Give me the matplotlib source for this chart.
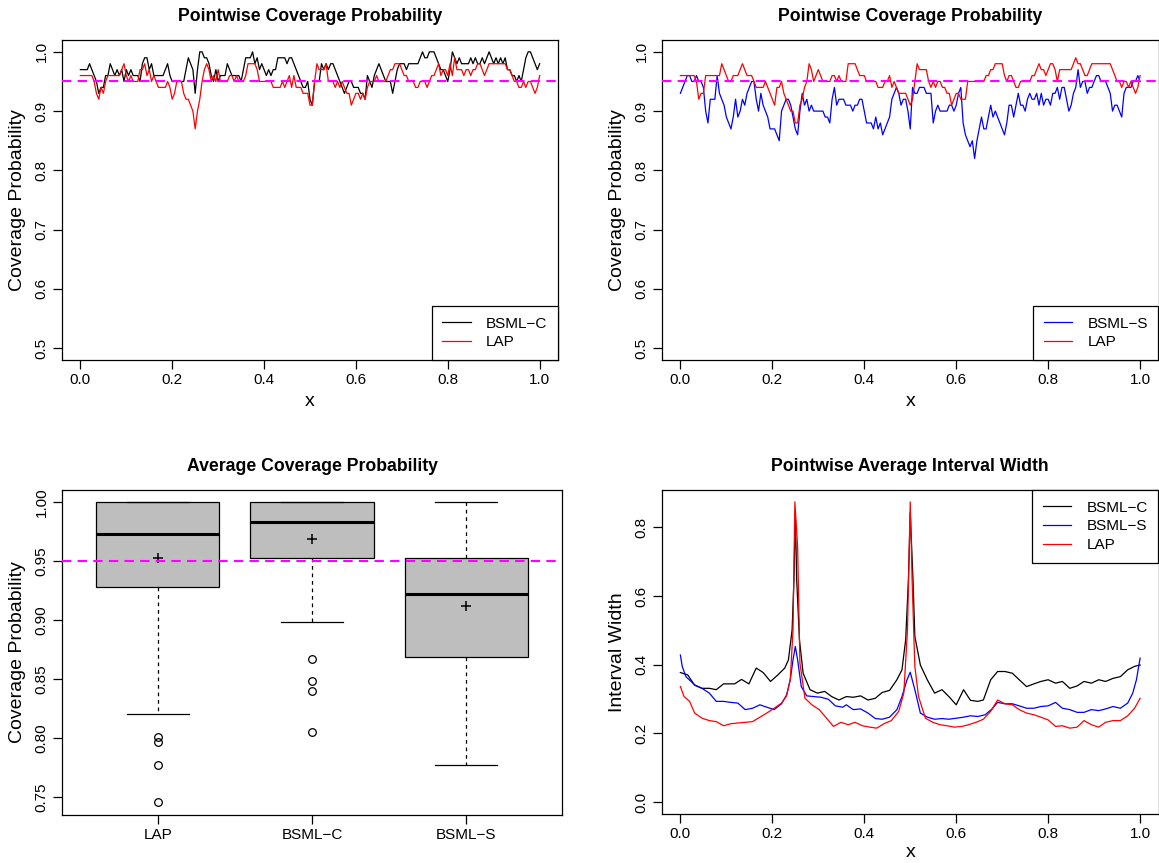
import numpy as np
import matplotlib
matplotlib.use("Agg")
import matplotlib.pyplot as plt

plt.rcParams['font.family'] = ['Liberation Sans', 'DejaVu Sans']

# coverage probabilities (percent) on a regular grid of 201 points in [0, 1]
x_grid = np.linspace(0, 1, 201)

cov_bsml_c = [
    97, 97, 97, 97, 98, 97, 96, 95, 93, 94, 94,
    96, 96, 98, 97, 96, 97, 96, 97, 95, 97,
    96, 97, 96, 96, 96, 95, 98, 99, 99, 97,
    98, 96, 96, 96, 96, 96, 97, 98, 96, 95,
    95, 95, 95, 95, 95, 97, 99, 98, 97, 93,
    97, 100, 100, 99, 99, 98, 96, 95, 97, 95,
    96, 96, 96, 98, 97, 96, 96, 96, 96, 95,
    97, 99, 99, 99, 100, 98, 99, 97, 98, 97,
    96, 97, 96, 97, 97, 99, 99, 99, 99, 98,
    99, 99, 98, 97, 96, 95, 94, 94, 95, 92,
    91, 95, 95, 95, 98, 97, 98, 97, 98, 98,
    97, 96, 95, 94, 93, 94, 95, 95, 94, 94,
    94, 93, 93, 92, 96, 95, 94, 96, 97, 98,
    97, 96, 95, 95, 95, 93, 95, 97, 98, 98,
    98, 97, 98, 98, 98, 98, 98, 99, 100, 99,
    99, 100, 100, 100, 99, 98, 97, 97, 96, 95,
    97, 100, 99, 98, 99, 98, 98, 98, 98, 99,
    98, 99, 98, 98, 99, 98, 99, 100, 99, 98,
    99, 98, 99, 98, 99, 97, 97, 96, 96, 95,
    96, 95, 97, 99, 100, 100, 99, 98, 97, 98]

cov_lap_1 = [
    96, 96, 96, 96, 96, 96, 95, 93, 92, 94, 93,
    95, 96, 96, 96, 96, 96, 96, 97, 98, 96,
    95, 96, 95, 95, 95, 97, 97, 98, 96, 97,
    95, 96, 95, 94, 94, 94, 94, 95, 94, 92,
    93, 95, 95, 95, 93, 92, 92, 91, 90, 87,
    90, 92, 95, 97, 98, 97, 95, 96, 95, 97,
    95, 95, 95, 95, 96, 96, 95, 96, 95, 95,
    95, 96, 98, 98, 98, 98, 97, 95, 95, 95,
    95, 95, 95, 94, 94, 94, 94, 95, 94, 95,
    96, 94, 96, 94, 94, 94, 93, 93, 93, 91,
    91, 95, 98, 97, 97, 97, 98, 95, 95, 95,
    94, 95, 94, 95, 94, 93, 93, 91, 92, 93,
    93, 92, 93, 92, 94, 95, 95, 95, 96, 95,
    95, 95, 95, 96, 97, 97, 98, 98, 98, 97,
    96, 96, 95, 95, 95, 94, 94, 95, 95, 95,
    94, 95, 96, 96, 97, 98, 96, 97, 97, 96,
    98, 96, 99, 97, 97, 97, 96, 97, 97, 96,
    97, 97, 98, 98, 97, 96, 97, 98, 98, 98,
    98, 98, 98, 98, 98, 97, 97, 96, 95, 95,
    94, 94, 95, 94, 95, 95, 94, 93, 94, 96]

cov_bsml_s = [
    93, 94, 95, 96, 96, 95, 95, 96, 95, 95, 94,
    90, 88, 92, 92, 92, 96, 93, 92, 91, 89,
    88, 87, 89, 92, 89, 90, 92, 91, 93, 94,
    95, 95, 92, 90, 93, 91, 90, 89, 87, 87,
    87, 86, 85, 90, 91, 92, 92, 91, 89, 87,
    86, 90, 93, 91, 92, 90, 91, 90, 90, 90,
    90, 90, 89, 89, 88, 92, 94, 91, 92, 92,
    92, 91, 91, 91, 90, 91, 91, 92, 92, 90,
    88, 88, 88, 87, 89, 87, 88, 86, 87, 88,
    89, 92, 93, 94, 93, 91, 92, 92, 90, 87,
    94, 93, 93, 94, 94, 94, 93, 93, 93, 88,
    90, 91, 90, 90, 90, 90, 91, 91, 90, 91,
    93, 94, 88, 86, 85, 84, 85, 82, 85, 87,
    89, 87, 87, 89, 91, 89, 90, 89, 88, 87,
    86, 88, 91, 91, 89, 91, 93, 91, 91, 90,
    92, 93, 92, 92, 93, 91, 93, 91, 92, 92,
    91, 93, 93, 94, 92, 94, 94, 92, 90, 91,
    93, 94, 97, 94, 95, 95, 93, 94, 94, 95,
    96, 96, 95, 95, 95, 94, 93, 90, 91, 91,
    90, 89, 93, 94, 94, 94, 95, 95, 96, 95]

cov_lap_2 = [
    96, 96, 96, 96, 96, 96, 96, 95, 92, 93, 93,
    96, 96, 96, 96, 96, 96, 96, 98, 97, 96,
    95, 95, 96, 96, 96, 97, 98, 97, 96, 96,
    96, 95, 94, 94, 94, 94, 95, 94, 93, 92,
    91, 94, 94, 95, 93, 92, 91, 90, 90, 88,
    88, 91, 92, 94, 95, 98, 97, 95, 96, 97,
    96, 95, 95, 95, 95, 96, 96, 95, 96, 95,
    95, 95, 98, 98, 98, 98, 97, 96, 96, 96,
    95, 95, 95, 95, 95, 94, 94, 94, 95, 95,
    96, 94, 95, 94, 93, 93, 93, 93, 92, 91,
    92, 95, 98, 97, 97, 97, 97, 95, 94, 95,
    94, 95, 95, 94, 94, 93, 93, 91, 92, 93,
    93, 92, 92, 92, 95, 95, 95, 95, 95, 95,
    95, 95, 96, 96, 97, 97, 98, 98, 98, 98,
    96, 95, 96, 96, 95, 94, 94, 95, 95, 95,
    95, 95, 96, 96, 97, 98, 97, 97, 96, 97,
    98, 98, 97, 95, 97, 97, 97, 97, 97, 97,
    98, 99, 98, 98, 97, 96, 96, 97, 98, 98,
    98, 98, 98, 98, 98, 98, 98, 97, 96, 95,
    95, 94, 95, 95, 94, 95, 94, 93, 94, 96]

# average coverage probability boxplots
box_names = ['LAP', 'BSML\u2212C', 'BSML\u2212S']
box_q1 = [0.928, 0.953, 0.869]
box_med = [0.973, 0.983, 0.922]
box_q3 = [1.000, 1.000, 0.953]
box_lo = [0.820, 0.898, 0.777]
box_hi = [1.000, 1.000, 1.000]
box_mean = [0.953, 0.969, 0.912]
box_out = [[0.801, 0.797, 0.777, 0.746], [0.867, 0.848, 0.840, 0.805], []]

# pointwise average interval width
w_c_x = [0, 0.016, 0.031, 0.047, 0.063, 0.078, 0.094, 0.118, 0.133, 0.149, 0.165,
         0.180, 0.196, 0.212, 0.227, 0.235, 0.243, 0.247, 0.250, 0.253, 0.259, 0.267,
         0.282, 0.298, 0.314, 0.329, 0.345, 0.361, 0.376, 0.392, 0.408, 0.424, 0.439,
         0.455, 0.471, 0.482, 0.490, 0.496, 0.500, 0.506, 0.510, 0.522, 0.537, 0.553,
         0.569, 0.584, 0.600, 0.616, 0.631, 0.647, 0.659, 0.675, 0.690, 0.706, 0.722,
         0.737, 0.753, 0.769, 0.784, 0.800, 0.816, 0.831, 0.847, 0.863, 0.878, 0.894,
         0.910, 0.925, 0.941, 0.957, 0.973, 0.988, 1.0]
w_c = [0.377, 0.370, 0.340, 0.331, 0.331, 0.327, 0.344, 0.344, 0.357, 0.344, 0.390,
       0.377, 0.351, 0.370, 0.390, 0.414, 0.501, 0.647, 0.843, 0.647, 0.472, 0.375,
       0.327, 0.317, 0.322, 0.307, 0.297, 0.307, 0.305, 0.309, 0.297, 0.302, 0.319,
       0.325, 0.356, 0.385, 0.472, 0.647, 0.843, 0.647, 0.482, 0.399, 0.356, 0.317,
       0.327, 0.307, 0.283, 0.327, 0.296, 0.293, 0.297, 0.356, 0.380, 0.380, 0.375,
       0.356, 0.336, 0.344, 0.351, 0.356, 0.346, 0.351, 0.331, 0.338, 0.351, 0.346,
       0.356, 0.351, 0.360, 0.365, 0.385, 0.395, 0.399]

w_s_x = [0, 0.004, 0.012, 0.031, 0.047, 0.063, 0.078, 0.094, 0.110, 0.125, 0.141,
         0.157, 0.173, 0.188, 0.204, 0.220, 0.231, 0.239, 0.245, 0.250, 0.255, 0.263,
         0.275, 0.290, 0.306, 0.322, 0.337, 0.353, 0.361, 0.376, 0.392, 0.408, 0.424,
         0.439, 0.455, 0.471, 0.482, 0.493, 0.500, 0.510, 0.522, 0.537, 0.553, 0.569,
         0.584, 0.600, 0.616, 0.631, 0.647, 0.663, 0.678, 0.690, 0.706, 0.722, 0.737,
         0.753, 0.769, 0.784, 0.800, 0.816, 0.831, 0.847, 0.863, 0.878, 0.894, 0.910,
         0.925, 0.941, 0.957, 0.973, 0.984, 0.992, 1.0]
w_s = [0.428, 0.395, 0.365, 0.341, 0.331, 0.317, 0.293, 0.293, 0.290, 0.288, 0.269,
       0.273, 0.283, 0.276, 0.269, 0.286, 0.312, 0.356, 0.414, 0.453, 0.414, 0.336,
       0.309, 0.307, 0.305, 0.299, 0.280, 0.276, 0.283, 0.269, 0.271, 0.259, 0.243,
       0.241, 0.247, 0.269, 0.307, 0.356, 0.378, 0.327, 0.259, 0.247, 0.241, 0.243,
       0.241, 0.244, 0.247, 0.251, 0.249, 0.254, 0.271, 0.290, 0.286, 0.286, 0.280,
       0.273, 0.273, 0.278, 0.280, 0.290, 0.273, 0.269, 0.261, 0.261, 0.269, 0.266,
       0.271, 0.278, 0.273, 0.288, 0.317, 0.356, 0.419]

w_l_x = [0, 0.008, 0.020, 0.031, 0.047, 0.063, 0.078, 0.094, 0.110, 0.125, 0.141,
         0.157, 0.173, 0.188, 0.204, 0.220, 0.231, 0.239, 0.245, 0.249, 0.255, 0.260,
         0.271, 0.286, 0.302, 0.318, 0.333, 0.349, 0.365, 0.380, 0.396, 0.412, 0.427,
         0.443, 0.459, 0.475, 0.486, 0.494, 0.500, 0.504, 0.510, 0.518, 0.533, 0.549,
         0.565, 0.580, 0.596, 0.612, 0.627, 0.643, 0.659, 0.675, 0.690, 0.706, 0.722,
         0.737, 0.753, 0.769, 0.784, 0.800, 0.816, 0.831, 0.847, 0.863, 0.878, 0.894,
         0.910, 0.925, 0.941, 0.957, 0.973, 0.988, 1.0]
w_l = [0.336, 0.307, 0.293, 0.259, 0.244, 0.237, 0.234, 0.222, 0.228, 0.230, 0.232,
       0.234, 0.247, 0.259, 0.273, 0.288, 0.309, 0.356, 0.501, 0.874, 0.744, 0.404,
       0.302, 0.283, 0.269, 0.244, 0.220, 0.232, 0.225, 0.232, 0.222, 0.218, 0.215,
       0.228, 0.237, 0.264, 0.317, 0.501, 0.874, 0.647, 0.395, 0.307, 0.244, 0.232,
       0.225, 0.222, 0.218, 0.220, 0.225, 0.232, 0.241, 0.264, 0.297, 0.286, 0.283,
       0.269, 0.259, 0.254, 0.247, 0.239, 0.220, 0.222, 0.215, 0.218, 0.237, 0.225,
       0.218, 0.232, 0.237, 0.237, 0.251, 0.273, 0.302]

W, H = 1159, 863
fig = plt.figure(figsize=(W / 100, H / 100), dpi=100)


def axes_px(x0, y0, x1, y1):
    return fig.add_axes([x0 / W, 1 - y1 / H, (x1 - x0) / W, (y1 - y0) / H])


TICK = 11
LAB = 14
TITLE = 12.7
LEG = 11
MAGENTA = '#FF00FF'


def style(ax):
    for s in ax.spines.values():
        s.set_linewidth(0.9)
        s.set_color('black')
    ax.tick_params(direction='out', length=6.5, width=0.9, labelsize=TICK, pad=3)
    for lab in ax.get_yticklabels():
        lab.set_rotation(90)
        lab.set_va('center')


def ref_line(ax, y):
    ax.axhline(y, color=MAGENTA, lw=1.5, dashes=(4.5, 3), zorder=3)


def legend(ax, loc):
    leg = ax.legend(loc=loc, fontsize=LEG, frameon=True, fancybox=False,
                    borderaxespad=0, handlelength=1.85, handletextpad=1.0,
                    borderpad=0.7, labelspacing=0.3, framealpha=1)
    leg.get_frame().set_edgecolor('black')
    leg.get_frame().set_linewidth(0.9)
    for line in leg.get_lines():
        line.set_linewidth(0.9)


# top left
ax1 = axes_px(62, 40, 558, 360)
ax1.plot(x_grid, np.array(cov_bsml_c) / 100, color='black', lw=0.9, label='BSML\u2212C')
ax1.plot(x_grid, np.array(cov_lap_1) / 100, color='red', lw=0.9, label='LAP')
ref_line(ax1, 0.95)
ax1.set_xlim(-0.04, 1.04)
ax1.set_ylim(0.48, 1.02)
ax1.set_xticks(np.arange(0, 1.01, 0.2))
ax1.set_yticks(np.arange(0.5, 1.01, 0.1))
ax1.set_xlabel('x', fontsize=LAB, labelpad=4)
ax1.set_ylabel('Coverage Probability', fontsize=LAB, labelpad=6)
ax1.set_title('Pointwise Coverage Probability', fontsize=TITLE, fontweight='bold', pad=14)
legend(ax1, 'lower right')
style(ax1)

# top right
ax2 = axes_px(662, 40, 1158.5, 360)
ax2.plot(x_grid, np.array(cov_bsml_s) / 100, color='blue', lw=0.9, label='BSML\u2212S')
ax2.plot(x_grid, np.array(cov_lap_2) / 100, color='red', lw=0.9, label='LAP')
ref_line(ax2, 0.95)
ax2.set_xlim(-0.04, 1.04)
ax2.set_ylim(0.48, 1.02)
ax2.set_xticks(np.arange(0, 1.01, 0.2))
ax2.set_yticks(np.arange(0.5, 1.01, 0.1))
ax2.set_xlabel('x', fontsize=LAB, labelpad=4)
ax2.set_ylabel('Coverage Probability', fontsize=LAB, labelpad=6)
ax2.set_title('Pointwise Coverage Probability', fontsize=TITLE, fontweight='bold', pad=14)
legend(ax2, 'lower right')
style(ax2)

# bottom left
ax3 = axes_px(62, 490, 562, 815)
stats = []
for i in range(len(box_names)):
    stats.append(dict(label=box_names[i], q1=box_q1[i], med=box_med[i], q3=box_q3[i],
                      whislo=box_lo[i], whishi=box_hi[i], mean=box_mean[i],
                      fliers=box_out[i]))
ax3.bxp(stats, positions=[1, 2, 3], widths=0.8, patch_artist=True, showmeans=True,
        boxprops=dict(facecolor='#BEBEBE', edgecolor='black', linewidth=0.9),
        medianprops=dict(color='black', linewidth=2.2),
        whiskerprops=dict(color='black', linewidth=0.9, linestyle=(0, (3, 3))),
        capprops=dict(color='black', linewidth=0.9),
        capwidths=0.4,
        flierprops=dict(marker='o', markerfacecolor='none', markeredgecolor='black',
                        markersize=5.5, markeredgewidth=0.9),
        meanprops=dict(marker='+', markeredgecolor='black', markersize=6.5,
                       markeredgewidth=1.1))
ref_line(ax3, 0.95)
ax3.set_xlim(0.38, 3.62)
ax3.set_ylim(0.7348, 1.0102)
ax3.set_yticks([0.75, 0.80, 0.85, 0.90, 0.95, 1.00])
ax3.set_yticklabels(['0.75', '0.80', '0.85', '0.90', '0.95', '1.00'])
ax3.set_ylabel('Coverage Probability', fontsize=LAB, labelpad=6)
ax3.set_title('Average Coverage Probability', fontsize=TITLE, fontweight='bold', pad=14)
style(ax3)

# bottom right
ax4 = axes_px(662, 490, 1158.5, 814)
ax4.plot(w_c_x, w_c, color='black', lw=0.9, label='BSML\u2212C')
ax4.plot(w_s_x, w_s, color='blue', lw=0.9, label='BSML\u2212S')
ax4.plot(w_l_x, w_l, color='red', lw=0.9, label='LAP')
ax4.set_xlim(-0.04, 1.04)
ax4.set_ylim(-0.035, 0.9086)
ax4.set_xticks(np.arange(0, 1.01, 0.2))
ax4.set_yticks(np.arange(0, 0.81, 0.2))
ax4.set_xlabel('x', fontsize=LAB, labelpad=2)
ax4.set_ylabel('Interval Width', fontsize=LAB, labelpad=6)
ax4.set_title('Pointwise Average Interval Width', fontsize=TITLE, fontweight='bold', pad=14)
legend(ax4, 'upper right')
style(ax4)

fig.savefig('out.png', dpi=100)
